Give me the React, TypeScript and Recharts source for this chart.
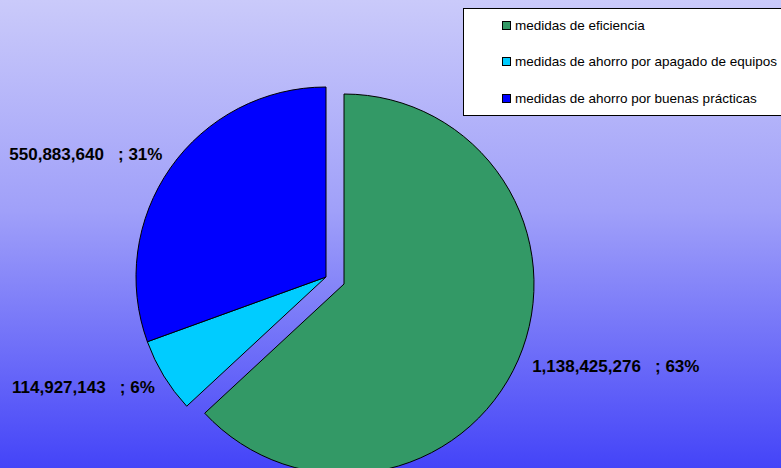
import React from 'react';
import { PieChart, Pie, Cell, Legend } from 'recharts';

const categories = [
  'medidas de eficiencia',
  'medidas de ahorro por apagado de equipos',
  'medidas de ahorro por buenas prácticas',
];
const values = [1138425276, 114927143, 550883640];
const percentLabels = ['63%', '6%', '31%'];
const colors = ['#339966', '#00CCFF', '#0000FF'];

const data = categories.map((name, i) => ({ name, value: values[i] }));

const W = 781;
const H = 468;
const R = 190;

const RAD = Math.PI / 180;
const labelOffsets: Record<number, { dx: number; dy: number; anchor: 'start' | 'end' }> = {
  0: { dx: 14, dy: 12, anchor: 'start' },
  1: { dx: -9, dy: 17, anchor: 'end' },
  2: { dx: -8, dy: -8, anchor: 'end' },
};

const fmt = (n: number) => n.toLocaleString('en-US');

const makeLabel = (show: number[]) => (props: any) => {
  const { cx, cy, midAngle, outerRadius, index } = props;
  if (!show.includes(index)) return null;
  const x = cx + outerRadius * Math.cos(-midAngle * RAD);
  const y = cy + outerRadius * Math.sin(-midAngle * RAD);
  const o = labelOffsets[index];
  return (
    <text
      x={x + o.dx}
      y={y + o.dy}
      textAnchor={o.anchor}
      fill="#000"
      fontFamily="Liberation Sans, Arial, sans-serif"
      fontWeight="bold"
      fontSize={17}
      style={{ whiteSpace: 'pre' }}
    >
      {`${fmt(values[index])}   ; ${percentLabels[index]}`}
    </text>
  );
};

const LegendBox = () => (
  <div
    style={{
      position: 'absolute',
      left: 463,
      top: 8,
      width: 330,
      height: 108,
      background: '#fff',
      border: '1px solid #000',
      boxSizing: 'border-box',
      fontFamily: 'Liberation Sans, Arial, sans-serif',
      fontSize: 13.5,
      color: '#000',
    }}
  >
    {categories.map((c, i) => (
      <div
        key={c}
        style={{
          position: 'absolute',
          left: 38,
          top: 8.5 + i * 36.5,
          display: 'flex',
          alignItems: 'center',
          whiteSpace: 'nowrap',
        }}
      >
        <span
          style={{
            display: 'inline-block',
            width: 7,
            height: 7,
            background: colors[i],
            border: '1px solid #000',
            marginRight: 4,
          }}
        />
        {c}
      </div>
    ))}
  </div>
);

export default function App() {
  return (
    <div
      style={{
        position: 'absolute',
        left: 0,
        top: 0,
        width: W,
        height: H,
        overflow: 'hidden',
        background: 'linear-gradient(to bottom, #CACAFA 0%, #A0A0F9 45%, #4444F8 100%)',
      }}
    >
      <PieChart width={W} height={H} margin={{ top: 0, right: 0, bottom: 0, left: 0 }}>
        <Pie
          data={data}
          dataKey="value"
          nameKey="name"
          cx={344}
          cy={284}
          outerRadius={R}
          startAngle={90}
          endAngle={-270}
          isAnimationActive={false}
          label={makeLabel([0])}
          labelLine={false}
          stroke="none"
        >
          {data.map((d, i) => (
            <Cell
              key={d.name}
              fill={i === 0 ? colors[i] : 'transparent'}
              stroke={i === 0 ? '#000' : 'none'}
              strokeWidth={1}
            />
          ))}
        </Pie>
        <Pie
          data={data}
          dataKey="value"
          nameKey="name"
          cx={326}
          cy={277}
          outerRadius={R}
          startAngle={90}
          endAngle={-270}
          isAnimationActive={false}
          label={makeLabel([1, 2])}
          labelLine={false}
          stroke="none"
        >
          {data.map((d, i) => (
            <Cell
              key={d.name}
              fill={i === 0 ? 'transparent' : colors[i]}
              stroke={i === 0 ? 'none' : '#000'}
              strokeWidth={1}
            />
          ))}
        </Pie>
        <Legend content={() => null} />
      </PieChart>
      <LegendBox />
    </div>
  );
}
